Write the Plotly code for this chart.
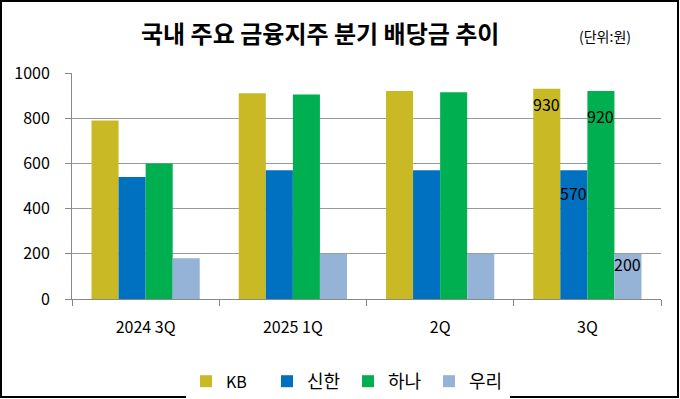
import plotly.graph_objects as go

categories = ["2024 3Q", "2025 1Q", "2Q", "3Q"]
series_names = ["KB", "신한", "하나", "우리"]
kb = [790, 910, 920, 930]
shinhan = [540, 570, 570, 570]
hana = [600, 905, 915, 920]
woori = [180, 200, 200, 200]
colors = ["#C9B925", "#0070C0", "#00B050", "#95B3D7"]
y_ticks = [0, 200, 400, 600, 800, 1000]

series_values = [kb, shinhan, hana, woori]
label_yshift = [-1, -9, -11, 4]
legend_sizes = [16, 18, 18, 18]

FONT = "Noto Sans CJK KR"
bargap = 0.265

fig = go.Figure()
for name, vals, col, fs in zip(series_names, series_values, colors, legend_sizes):
    fig.add_trace(go.Bar(name=f'<span style="font-size:{fs}px">{name}</span>',
                         x=categories, y=vals, marker_color=col,
                         marker_line_width=0))

# value labels on the last category
n = len(series_values)
w = (1 - bargap) / n
last = len(categories) - 1
for i, vals in enumerate(series_values):
    off = -(1 - bargap) / 2 + w * (i + 0.5)
    fig.add_annotation(x=last + off, y=vals[last], xref="x", yref="y",
                       text=str(vals[last]), showarrow=False,
                       yanchor="top", yshift=label_yshift[i],
                       font=dict(family=FONT, size=16, color="#000"))

fig.update_layout(
    width=680, height=399, autosize=False,
    barmode="group", bargap=bargap, bargroupgap=0,
    paper_bgcolor="white", plot_bgcolor="white",
    margin=dict(l=72, r=19, t=73, b=100, autoexpand=False),
    font=dict(family=FONT, color="#000"),
    showlegend=True,
    legend=dict(orientation="h", x=(186 - 72) / 589, xanchor="left",
                y=(299 - 363) / 226, yanchor="top",
                font=dict(size=18), itemwidth=30, entrywidth=36,
                traceorder="normal"),
    xaxis=dict(type="category", showline=True, linecolor="#888", linewidth=1,
               ticks="outside", tickson="boundaries", ticklen=6, tickcolor="#888",
               tickfont=dict(size=16), ticklabelstandoff=14, showgrid=False),
    yaxis=dict(range=[0, 1000], tickvals=y_ticks, showline=True, linecolor="#888",
               linewidth=1, ticks="outside", ticklen=6, tickcolor="#888",
               showgrid=True, gridcolor="#999", gridwidth=1, zeroline=False,
               tickfont=dict(size=16), ticklabelstandoff=12),
    annotations=list(fig.layout.annotations) + [
        dict(text="<b>국내 주요 금융지주 분기 배당금 추이</b>", xref="paper", yref="paper",
             x=(320 - 72) / 589, y=(299 - 33) / 226, xanchor="center", yanchor="middle",
             showarrow=False, font=dict(family=FONT, size=24, color="#000")),
        dict(text="(단위:원)", xref="paper", yref="paper",
             x=(605 - 72) / 589, y=(299 - 36) / 226, xanchor="center", yanchor="middle",
             showarrow=False, font=dict(family=FONT, size=14, color="#000")),
    ],
    shapes=[dict(type="rect", xref="paper", yref="paper",
                 x0=(1 - 72) / 589, x1=(678 - 72) / 589,
                 y0=(299 - 397) / 226, y1=(299 - 1) / 226,
                 line=dict(color="#000", width=2), fillcolor="rgba(0,0,0,0)")],
)

fig.write_html("out.html",
               config=dict(displayModeBar=False, responsive=False),
               post_script="document.body.style.margin='0px';document.body.style.overflow='hidden';")
